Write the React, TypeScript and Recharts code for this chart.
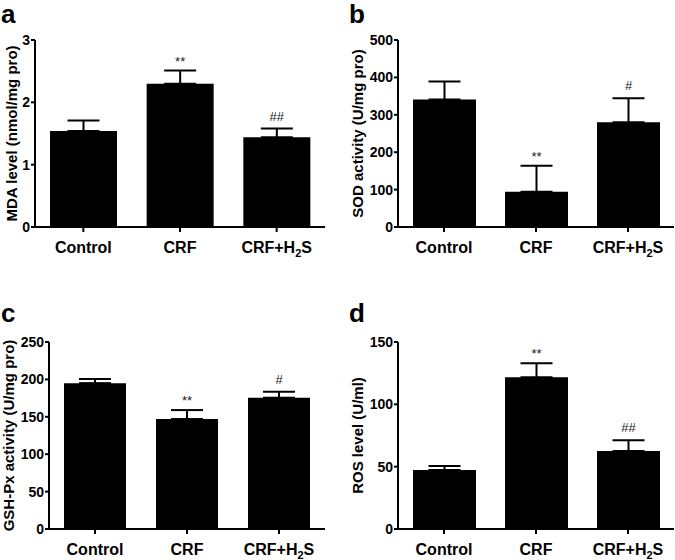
import { Bar, BarChart, ErrorBar, LabelList, XAxis, YAxis } from "recharts";

const FONT = '"Liberation Sans", Arial, Helvetica, sans-serif';
const INK = "#000";

const GROUPS = ["Control", "CRF", "CRF+H2S"];

// a: MDA level (nmol/mg pro)
const MDA_MEAN = [1.54, 2.3, 1.44];
const MDA_SEM = [0.17, 0.21, 0.14];
const MDA_SIG = ["", "**", "##"];
const MDA_TICKS = [0, 1, 2, 3];

// b: SOD activity (U/mg pro)
const SOD_MEAN = [341, 94, 280];
const SOD_SEM = [48, 70, 64];
const SOD_SIG = ["", "**", "#"];
const SOD_TICKS = [0, 100, 200, 300, 400, 500];

// c: GSH-Px activity (U/mg pro)
const GSH_MEAN = [195, 147, 175.5];
const GSH_SEM = [5.5, 12, 8];
const GSH_SIG = ["", "**", "#"];
const GSH_TICKS = [0, 50, 100, 150, 200, 250];

// d: ROS level (U/ml)
const ROS_MEAN = [47.3, 121.7, 62.6];
const ROS_SEM = [3.2, 11.2, 8.5];
const ROS_SIG = ["", "**", "##"];
const ROS_TICKS = [0, 50, 100, 150];

type Row = { group: string; mean: number; sem: number; err: number[]; sig: string };

function buildRows(mean: number[], sem: number[], sig: string[]): Row[] {
  return GROUPS.map((g, i) => ({
    group: g,
    mean: mean[i],
    sem: sem[i],
    err: [0, sem[i]],
    sig: sig[i],
  }));
}

function GroupTick({ x, y, payload }: any) {
  const v = String(payload.value);
  const common = {
    x,
    y,
    dy: 11.5,
    textAnchor: "middle" as const,
    fontFamily: FONT,
    fontSize: 16,
    fontWeight: 700,
    fill: INK,
  };
  if (v === "CRF+H2S") {
    return (
      <text {...common}>
        CRF+H
        <tspan fontSize={11} dy={4}>
          2
        </tspan>
        <tspan dy={-4}>S</tspan>
      </text>
    );
  }
  return <text {...common}>{v}</text>;
}

function yTitle(text: string, dx: number) {
  return {
    content: (p: any) => {
      const vb = p.viewBox || {};
      const cx = vb.x + vb.width + dx;
      const cy = vb.y + vb.height / 2;
      return (
        <text
          x={cx}
          y={cy}
          transform={`rotate(-90 ${cx} ${cy})`}
          textAnchor="middle"
          dominantBaseline="central"
          fontFamily={FONT}
          fontSize={15}
          fontWeight={700}
          fill={INK}
        >
          {text}
        </text>
      );
    },
  };
}

const sigLabel = (rows: Row[]) => (props: any) => {
  const vb = props.viewBox || props;
  const { x, y, width, height } = vb;
  const row = rows[props.index];
  if (!row || !row.sig) return null;
  const perUnit = Math.abs(height) / row.mean;
  const top = Math.min(y, y + height) - row.sem * perUnit;
  const star = row.sig.includes("*");
  return (
    <text
      x={x + width / 2}
      y={top - (star ? 5 : 8)}
      textAnchor="middle"
      fontFamily={FONT}
      fontSize={13}
      fill="#222"
    >
      {row.sig}
    </text>
  );
};

function Panel({
  rows,
  ticks,
  title,
  titleDx,
  axisWidth,
  barSize,
  right,
}: {
  rows: Row[];
  ticks: number[];
  title: string;
  titleDx: number;
  axisWidth: number;
  barSize: number;
  right: number;
}) {
  return (
    <BarChart
      width={337}
      height={280}
      data={rows}
      margin={{ top: 40, right, left: 0, bottom: 23 }}
    >
      <XAxis
        dataKey="group"
        height={30}
        tick={<GroupTick />}
        tickSize={5}
        tickMargin={9}
        axisLine={{ stroke: INK, strokeWidth: 2 }}
        tickLine={{ stroke: INK, strokeWidth: 2 }}
        interval={0}
      />
      <YAxis
        width={axisWidth}
        domain={[ticks[0], ticks[ticks.length - 1]]}
        ticks={ticks}
        tickSize={4}
        tickMargin={1}
        axisLine={{ stroke: INK, strokeWidth: 2 }}
        tickLine={{ stroke: INK, strokeWidth: 2 }}
        tick={{ fontFamily: FONT, fontSize: 14, fontWeight: 700, fill: INK }}
        label={yTitle(title, titleDx)}
      />
      <Bar dataKey="mean" fill={INK} barSize={barSize} isAnimationActive={false}>
        <ErrorBar
          dataKey="err"
          width={16}
          stroke={INK}
          strokeWidth={2}
          direction="y"
          isAnimationActive={false}
        />
        <LabelList dataKey="sig" content={sigLabel(rows)} />
      </Bar>
    </BarChart>
  );
}

const letterStyle = {
  fontFamily: FONT,
  fontSize: 26,
  fontWeight: 700,
  fill: INK,
};

export default function App() {
  return (
    <div
      style={{
        position: "absolute",
        left: 0,
        top: 0,
        width: 675,
        height: 560,
        background: "#fff",
        overflow: "hidden",
      }}
    >
      <div style={{ position: "absolute", left: 0, top: 0 }}>
        <Panel
          rows={buildRows(MDA_MEAN, MDA_SEM, MDA_SIG)}
          ticks={MDA_TICKS}
          title="MDA level (nmol/mg pro)"
          titleDx={-24}
          axisWidth={35}
          barSize={67}
          right={12}
        />
      </div>
      <div style={{ position: "absolute", left: 337, top: 0 }}>
        <Panel
          rows={buildRows(SOD_MEAN, SOD_SEM, SOD_SIG)}
          ticks={SOD_TICKS}
          title="SOD activity (U/mg pro)"
          titleDx={-41}
          axisWidth={61}
          barSize={63}
          right={0}
        />
      </div>
      <div style={{ position: "absolute", left: 0, top: 302 }}>
        <Panel
          rows={buildRows(GSH_MEAN, GSH_SEM, GSH_SIG)}
          ticks={GSH_TICKS}
          title="GSH-Px activity (U/mg pro)"
          titleDx={-41}
          axisWidth={49}
          barSize={62}
          right={12}
        />
      </div>
      <div style={{ position: "absolute", left: 337, top: 302 }}>
        <Panel
          rows={buildRows(ROS_MEAN, ROS_SEM, ROS_SIG)}
          ticks={ROS_TICKS}
          title="ROS level (U/ml)"
          titleDx={-41}
          axisWidth={61}
          barSize={63}
          right={0}
        />
      </div>
      <svg
        width={675}
        height={560}
        style={{ position: "absolute", left: 0, top: 0, pointerEvents: "none" }}
      >
        <text x={1} y={23} {...letterStyle}>a</text>
        <text x={349} y={23} {...letterStyle}>b</text>
        <text x={1} y={322} {...letterStyle}>c</text>
        <text x={349} y={322} {...letterStyle}>d</text>
      </svg>
    </div>
  );
}
